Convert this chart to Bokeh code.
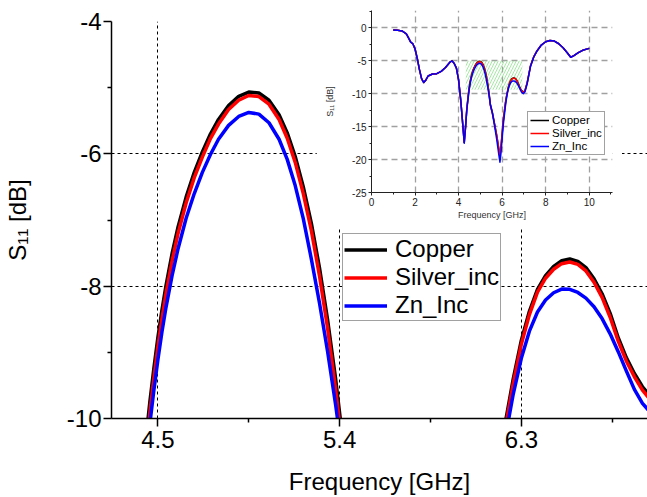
from bokeh.plotting import figure
from bokeh.models import ColumnDataSource, FixedTicker, Legend, LegendItem, Range1d
from bokeh.embed import file_html
from bokeh.resources import INLINE

FONT = "Liberation Sans"

# Reflection coefficient S11 of the antenna for three conductor materials
freq_ghz = [
    1.0, 1.2, 1.4, 1.6, 1.7, 1.8, 1.9, 2.0, 2.1, 2.2, 2.3, 2.4, 2.5, 2.6,
    2.8, 3.0, 3.2, 3.4, 3.6, 3.7, 3.8, 3.9, 4.0, 4.1, 4.2, 4.26, 4.32, 4.38,
    4.44, 4.46, 4.48, 4.50, 4.52, 4.54, 4.57, 4.60, 4.64, 4.68, 4.72, 4.76,
    4.80, 4.85, 4.90, 4.95, 5.00, 5.05, 5.10, 5.14, 5.18, 5.22, 5.26, 5.30,
    5.34, 5.38, 5.42, 5.46,
    5.55, 5.65, 5.75, 5.85, 5.90, 5.95, 6.05, 6.15,
    6.20, 6.23, 6.26, 6.30, 6.34, 6.38, 6.42, 6.46, 6.50, 6.54, 6.58, 6.62,
    6.66, 6.70, 6.74, 6.78, 6.82, 6.86, 6.90, 6.94, 6.98,
    7.05, 7.15, 7.30, 7.45, 7.60, 7.80, 8.00, 8.20, 8.40, 8.60, 8.80, 9.00,
    9.15, 9.30, 9.50, 9.70, 10.0,
]

s11_copper_db = [
    -0.30, -0.35, -0.45, -0.90, -1.50, -2.15, -2.40, -3.20, -4.60, -6.30, -7.70, -8.30, -7.90, -7.30,
    -7.00, -6.95, -6.60, -6.00, -5.20, -5.00, -5.40, -6.10, -7.90, -11.0, -15.0, -17.4, -15.0, -12.2,
    -10.32, -9.75, -9.24, -8.77, -8.36, -7.99, -7.51, -7.10, -6.65, -6.28, -5.97, -5.70,
    -5.48, -5.27, -5.13, -5.066, -5.08, -5.19, -5.41, -5.68, -6.04, -6.50, -7.05, -7.72,
    -8.50, -9.40, -10.44, -11.61,
    -12.8, -14.5, -16.3, -18.5, -19.6, -18.0, -14.2, -11.4,
    -10.40, -9.905, -9.40, -8.82, -8.38, -8.05, -7.84, -7.70, -7.616, -7.59, -7.625, -7.72,
    -7.89, -8.115, -8.41, -8.78, -9.08, -9.32, -9.52, -9.67, -9.75,
    -9.50, -8.30, -5.80, -4.40, -3.50, -2.60, -2.10, -1.90, -2.00, -2.40, -3.00, -3.80,
    -4.45, -4.20, -3.75, -3.40, -3.10,
]

s11_silver_db = [
    -0.30, -0.35, -0.45, -0.90, -1.50, -2.15, -2.40, -3.20, -4.60, -6.30, -7.70, -8.30, -7.90, -7.30,
    -7.00, -6.95, -6.60, -6.00, -5.20, -5.00, -5.40, -6.10, -7.90, -11.0, -15.0, -17.4, -15.0, -12.2,
    -10.49, -9.91, -9.39, -8.91, -8.49, -8.11, -7.62, -7.20, -6.74, -6.36, -6.05, -5.77,
    -5.55, -5.33, -5.19, -5.118, -5.135, -5.25, -5.48, -5.76, -6.13, -6.60, -7.16, -7.84,
    -8.63, -9.55, -10.60, -11.78,
    -12.95, -14.6, -16.3, -18.3, -19.3, -17.9, -14.2, -11.5,
    -10.48, -9.98, -9.47, -8.88, -8.43, -8.09, -7.88, -7.745, -7.66, -7.635, -7.67, -7.77,
    -7.94, -8.17, -8.47, -8.83, -9.13, -9.37, -9.57, -9.72, -9.79,
    -9.55, -8.35, -5.82, -4.40, -3.50, -2.60, -2.10, -1.90, -2.00, -2.40, -3.00, -3.80,
    -4.45, -4.20, -3.75, -3.40, -3.10,
]

s11_zn_db = [
    -0.30, -0.35, -0.45, -0.90, -1.50, -2.15, -2.40, -3.20, -4.60, -6.30, -7.70, -8.30, -7.90, -7.30,
    -7.00, -6.95, -6.60, -6.00, -5.20, -5.00, -5.40, -6.10, -7.90, -11.0, -15.0, -17.5, -15.1, -12.4,
    -10.65, -10.08, -9.57, -9.11, -8.69, -8.32, -7.84, -7.43, -6.97, -6.60, -6.28, -6.01,
    -5.78, -5.57, -5.435, -5.374, -5.40, -5.53, -5.78, -6.08, -6.48, -6.98, -7.59, -8.25,
    -8.98, -9.79, -10.69, -11.67,
    -12.9, -14.8, -16.9, -19.3, -20.4, -18.9, -14.8, -11.9,
    -10.72, -10.13, -9.63, -9.09, -8.68, -8.39, -8.21, -8.10, -8.044, -8.048, -8.095, -8.18,
    -8.31, -8.49, -8.72, -8.99, -9.28, -9.56, -9.77, -9.91, -9.98,
    -9.70, -8.50, -5.90, -4.45, -3.52, -2.60, -2.10, -1.90, -2.00, -2.40, -3.00, -3.80,
    -4.45, -4.20, -3.75, -3.40, -3.10,
]

series_names = ["Copper", "Silver_inc", "Zn_Inc"]
series_colors = ["#000000", "#ff0000", "#0000ff"]

# axis ticks of the zoomed view
main_x_ticks = [4.5, 5.4, 6.3]
main_x_minor = [4.95, 5.85, 6.75]
main_y_ticks = [-10, -8, -6, -4]
main_y_minor = [-9, -7, -5]
main_y_grid = [-8, -6]

# axis ticks of the full-band overview
full_x_ticks = [0, 2, 4, 6, 8, 10]
full_x_minor = [1, 3, 5, 7, 9, 11]
full_y_ticks = [-25, -20, -15, -10, -5, 0]
full_y_minor = [-22.5, -17.5, -12.5, -7.5, -2.5, 2.5]

# hatched band marking the zoomed region in the overview
band_ghz = [4.33, 6.93]
band_db = [-9.4, -5.0]


def plain_labels(ticks):
    # tick text with an ASCII hyphen as the minus sign
    return {t: (str(int(t)) if float(t).is_integer() else str(t)) for t in ticks}


src = ColumnDataSource(dict(f=freq_ghz, cu=s11_copper_db, ag=s11_silver_db, zn=s11_zn_db))
cols = ["cu", "ag", "zn"]

# ---- zoomed main view -------------------------------------------------------
p = figure(width=647, height=497, x_range=Range1d(4.27, 6.925), y_range=Range1d(-10, -4),
           output_backend="svg", toolbar_location=None,
           min_border_left=111, min_border_right=0, min_border_top=21, min_border_bottom=79)
p.outline_line_color = None
p.background_fill_color = "white"
p.border_fill_color = "white"

p.xaxis.ticker = FixedTicker(ticks=main_x_ticks, minor_ticks=main_x_minor)
p.yaxis.ticker = FixedTicker(ticks=main_y_ticks, minor_ticks=main_y_minor)
p.xaxis.major_label_overrides = plain_labels(main_x_ticks)
p.yaxis.major_label_overrides = plain_labels(main_y_ticks)
p.xgrid.ticker = FixedTicker(ticks=main_x_ticks)
p.ygrid.ticker = FixedTicker(ticks=main_y_grid)
for g in (p.xgrid, p.ygrid):
    g.grid_line_color = "black"
    g.grid_line_dash = "3 3"
    g.grid_line_width = 1

for ax in (p.xaxis, p.yaxis):
    ax.axis_line_color = "black"
    ax.axis_line_width = 1.5
    ax.major_tick_line_width = 1.5
    ax.minor_tick_line_width = 1.5
    ax.major_tick_in = 0
    ax.minor_tick_in = 0
    ax.major_tick_out = 8
    ax.minor_tick_out = 4
    ax.major_label_text_font = FONT
    ax.major_label_text_font_size = "24px"
    ax.major_label_text_color = "black"
    ax.axis_label_text_font = FONT
    ax.axis_label_text_font_size = "24px"
    ax.axis_label_text_font_style = "normal"
    ax.axis_label_text_color = "black"

p.xaxis.axis_label = "Frequency [GHz]"
p.xaxis.major_label_standoff = 4
p.xaxis.axis_label_standoff = 17
p.yaxis.axis_label = "S\u2081\u2081 [dB]"
p.yaxis.major_label_standoff = 2
p.yaxis.axis_label_standoff = 33

main_renderers = []
for col, color in zip(cols, series_colors):
    main_renderers.append(p.line("f", col, source=src, line_color=color, line_width=3.5,
                                 line_join="round"))

legend = Legend(
    items=[LegendItem(label=n, renderers=[r]) for n, r in zip(series_names, main_renderers)],
    location=(231, 97), margin=0, padding=1, spacing=0,
    glyph_width=43, glyph_height=25, label_height=25, label_standoff=8,
    label_text_font=FONT, label_text_font_size="24px", label_text_color="black",
    border_line_color="#444444", border_line_width=1.2,
    background_fill_color="white", background_fill_alpha=1.0,
)
p.add_layout(legend)

# ---- full-band overview ---------------------------------------------------------
q = figure(width=306, height=228, x_range=Range1d(0, 11.07), y_range=Range1d(-25, 2.65),
           output_backend="svg", toolbar_location=None,
           min_border_left=55, min_border_right=10, min_border_top=10, min_border_bottom=36)
q.outline_line_color = None
q.background_fill_color = "white"
q.border_fill_color = "white"

q.xaxis.ticker = FixedTicker(ticks=full_x_ticks, minor_ticks=full_x_minor)
q.yaxis.ticker = FixedTicker(ticks=full_y_ticks, minor_ticks=full_y_minor)
q.xaxis.major_label_overrides = plain_labels(full_x_ticks)
q.yaxis.major_label_overrides = plain_labels(full_y_ticks)
for g in (q.xgrid, q.ygrid):
    g.grid_line_color = "#a0a0a0"
    g.grid_line_dash = "6 4"
    g.grid_line_width = 1.3

for ax in (q.xaxis, q.yaxis):
    ax.axis_line_color = "#222222"
    ax.axis_line_width = 1
    ax.major_tick_line_color = "#222222"
    ax.minor_tick_line_color = "#222222"
    ax.major_tick_in = 0
    ax.minor_tick_in = 0
    ax.major_tick_out = 3
    ax.minor_tick_out = 2
    ax.major_label_text_font = FONT
    ax.major_label_text_font_size = "10px"
    ax.major_label_text_color = "#222222"
    ax.axis_label_text_font = FONT
    ax.axis_label_text_font_size = "9px"
    ax.axis_label_text_font_style = "normal"
    ax.axis_label_text_color = "#333333"

q.xaxis.axis_label = "Frequency [GHz]"
q.xaxis.major_label_standoff = 2
q.xaxis.axis_label_standoff = 1
q.yaxis.axis_label = "S\u2081\u2081 [dB]"
q.yaxis.major_label_standoff = 2
q.yaxis.axis_label_standoff = 14

q.quad(left=[band_ghz[0]], right=[band_ghz[1]], bottom=[band_db[0]], top=[band_db[1]],
       fill_alpha=0, line_alpha=0, hatch_pattern="/", hatch_color="#66dd66",
       hatch_alpha=0.6, hatch_scale=6, hatch_weight=1)

full_renderers = []
for col, color in zip(cols, series_colors):
    full_renderers.append(q.line("f", col, source=src, line_color=color, line_width=1.5,
                                 line_join="round"))

marker = q.quad(left=[], right=[], bottom=[], top=[], fill_color="#ffb3b3", fill_alpha=0.35,
                line_color="#ff5555", line_width=1)

q_legend = Legend(
    items=[LegendItem(label=series_names[0], renderers=[marker, full_renderers[0]]),
           LegendItem(label=series_names[1], renderers=[full_renderers[1]]),
           LegendItem(label=series_names[2], renderers=[full_renderers[2]])],
    location=(156, 37), margin=0, padding=2, spacing=1,
    glyph_width=19, glyph_height=12, label_height=12, label_standoff=3,
    label_text_font=FONT, label_text_font_size="11.5px", label_text_color="black",
    border_line_color="#444444", border_line_width=1,
    background_fill_color="white", background_fill_alpha=1.0,
)
q.add_layout(q_legend)

# overview sits on top of the zoomed view, upper right
q.styles = {"position": "absolute", "left": "316px", "top": "0px", "z-index": "5"}

with open("out.html", "w") as fh:
    fh.write(file_html([p, q], INLINE))
